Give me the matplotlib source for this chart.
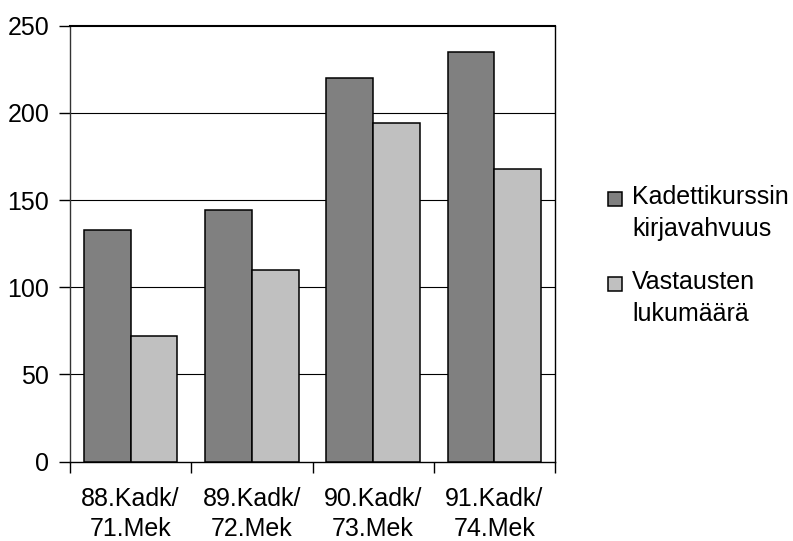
import numpy as np
import matplotlib.pyplot as plt
from matplotlib.patches import Rectangle

plt.rcParams['font.family'] = ['Liberation Sans', 'DejaVu Sans']

# data
categories = ['88.Kadk/\n71.Mek', '89.Kadk/\n72.Mek', '90.Kadk/\n73.Mek', '91.Kadk/\n74.Mek']
kirjavahvuus = [133, 144, 220, 235]
vastaukset = [72, 110, 194, 168]
series_names = ['Kadettikurssin\nkirjavahvuus', 'Vastausten\nlukumäärä']
colors = ['#808080', '#c0c0c0']

fig = plt.figure(figsize=(7.93, 5.41), dpi=100)
ax = fig.add_axes([70/793, 1 - 461.5/541, 485/793, 435.8/541])

x = np.arange(len(categories))
w = 0.385
ax.bar(x - w/2, kirjavahvuus, w, color=colors[0], edgecolor='black', linewidth=1.1, zorder=3)
ax.bar(x + w/2, vastaukset, w, color=colors[1], edgecolor='black', linewidth=1.1, zorder=3)

ax.set_xlim(-0.5, len(categories) - 0.5)
ax.set_ylim(0, 250)
ax.set_yticks([0, 50, 100, 150, 200, 250])
for v in [50, 100, 150, 200]:
    ax.axhline(v, color='black', linewidth=0.8, zorder=1)

# category labels at centres, ticks between categories
ax.set_xticks(x)
ax.set_xticklabels(categories, fontsize=18, linespacing=1.33)
ax.tick_params(axis='x', which='major', length=0, pad=18)
ax.set_xticks(np.arange(len(categories) + 1) - 0.5, minor=True)
ax.tick_params(axis='x', which='minor', length=8, width=1, direction='out')
ax.tick_params(axis='y', labelsize=18, length=8, width=1, direction='out', pad=7)

for s in ax.spines.values():
    s.set_color('black')
    s.set_linewidth(1.0)
ax.spines['left'].set_color('#333333')
ax.spines['top'].set_linewidth(1.5)

# legend drawn by hand so the box sits on the first text line
for i, (name, col) in enumerate(zip(series_names, colors)):
    ytop = 192 + i * 85
    fig.patches.append(Rectangle((608/793, 1 - (ytop + 14)/541), 14/793, 14/541,
                                 transform=fig.transFigure, facecolor=col,
                                 edgecolor='black', linewidth=1.1))
    fig.text(632/793, 1 - (ytop - 7)/541, name, fontsize=18, va='top', ha='left',
             linespacing=1.42)

fig.savefig('out.png', dpi=100)
